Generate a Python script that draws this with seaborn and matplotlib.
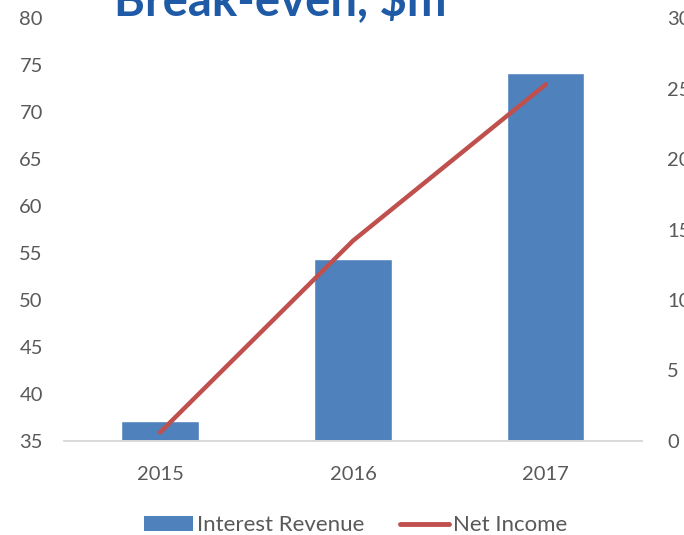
import matplotlib
matplotlib.use("Agg")
from matplotlib import pyplot as plt
from matplotlib.patches import Patch
from matplotlib.lines import Line2D
import pandas as pd
import seaborn as sns

# values
years = ["2015", "2016", "2017"]
interest_revenue = [37.1, 54.4, 74.2]
net_income = [0.6, 14.2, 25.3]

bar_color = "#4F81BD"
line_color = "#C0504D"
tick_color = "#595959"

sns.set_style("white")
plt.rcParams["font.family"] = ["Lato", "DejaVu Sans"]

df = pd.DataFrame({"Year": years, "Interest Revenue": interest_revenue,
                   "Net Income": net_income, "pos": range(len(years))})

fig = plt.figure(figsize=(6.84, 5.35), dpi=100)
ax = fig.add_axes([0.093, 0.176, 0.846, 0.790])

sns.barplot(data=df, x="Year", y="Interest Revenue", color=bar_color,
            width=0.4, saturation=1, ax=ax)
ax.set_ylim(35, 80)
ax.set_yticks(range(35, 81, 5))
ax.set_xlim(-0.5, 2.5)
ax.set_xlabel("")
ax.set_ylabel("")

ax2 = ax.twinx()
sns.lineplot(data=df, x="pos", y="Net Income", color=line_color,
             linewidth=3.2, solid_capstyle="round", ax=ax2)
ax2.set_ylim(0, 30)
ax2.set_yticks(range(0, 31, 5))
ax2.set_xlim(-0.5, 2.5)
ax2.set_xlabel("")
ax2.set_ylabel("")

for a in (ax, ax2):
    for s in ("top", "left", "right"):
        a.spines[s].set_visible(False)
    a.spines["bottom"].set_color("#D9D9D9")
    a.spines["bottom"].set_linewidth(1.2)
    a.tick_params(axis="both", length=0, labelsize=14.5, labelcolor=tick_color)
ax.tick_params(axis="y", pad=15)
ax.tick_params(axis="x", pad=18)
ax2.tick_params(axis="y", pad=18)

fig.text(0.41, 0.972, "Break-even, $m", fontsize=34, fontweight="bold",
         color="#1F5AA6", ha="center", va="baseline")

handles = [Patch(facecolor=bar_color, edgecolor="none"),
           Line2D([0], [0], color=line_color, linewidth=3.5, solid_capstyle="round")]
fig.legend(handles, ["Interest Revenue", "Net Income"], loc="center",
           bbox_to_anchor=(0.52, 0.018), ncol=2, frameon=False, fontsize=16,
           labelcolor=tick_color, handlelength=2.2, handletextpad=0.2,
           columnspacing=1.6)

fig.savefig("out.png", dpi=100)
